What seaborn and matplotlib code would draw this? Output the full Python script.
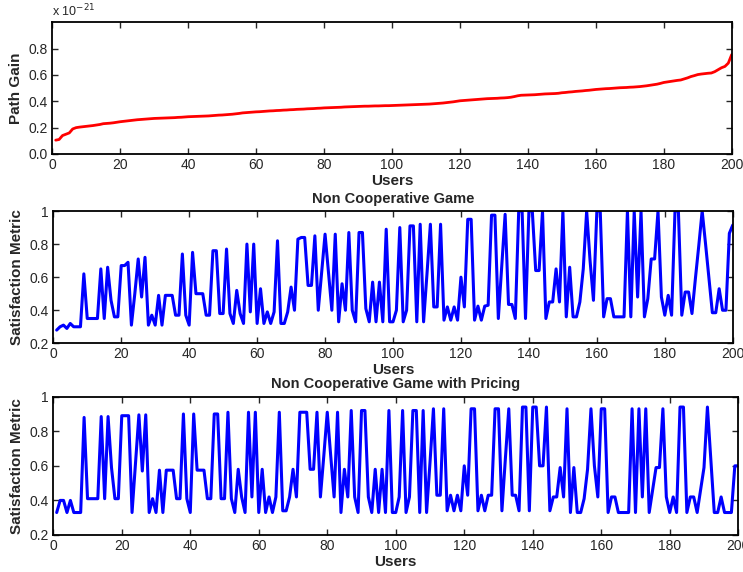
#!/usr/bin/env python
"""
Path gain and satisfaction metric per user (three stacked panels)
"""

import numpy as np
import matplotlib
matplotlib.use("Agg")
import matplotlib.pyplot as plt
from matplotlib.ticker import FuncFormatter
import seaborn as sns

# Data
users = np.arange(1, 201)

# path gain, in units of 1e-21
path_gain_e21 = [
    0.105, 0.110, 0.140, 0.150, 0.160, 0.190, 0.200, 0.204, 0.207, 0.210,
    0.213, 0.216, 0.220, 0.224, 0.230, 0.232, 0.234, 0.237, 0.241, 0.245,
    0.248, 0.251, 0.254, 0.257, 0.260, 0.262, 0.264, 0.266, 0.268, 0.270,
    0.271, 0.272, 0.273, 0.274, 0.275, 0.276, 0.278, 0.279, 0.281, 0.283,
    0.284, 0.285, 0.286, 0.287, 0.288, 0.289, 0.291, 0.293, 0.295, 0.296,
    0.298, 0.300, 0.302, 0.305, 0.308, 0.312, 0.314, 0.316, 0.318, 0.320,
    0.321, 0.323, 0.325, 0.327, 0.328, 0.330, 0.331, 0.333, 0.334, 0.336,
    0.337, 0.339, 0.340, 0.341, 0.343, 0.344, 0.345, 0.347, 0.348, 0.350,
    0.351, 0.352, 0.353, 0.354, 0.355, 0.357, 0.358, 0.359, 0.360, 0.361,
    0.362, 0.363, 0.363, 0.364, 0.365, 0.365, 0.366, 0.367, 0.367, 0.368,
    0.369, 0.370, 0.371, 0.372, 0.373, 0.374, 0.375, 0.376, 0.377, 0.378,
    0.379, 0.381, 0.383, 0.385, 0.387, 0.390, 0.393, 0.396, 0.400, 0.404,
    0.406, 0.408, 0.410, 0.412, 0.414, 0.416, 0.418, 0.420, 0.421, 0.422,
    0.423, 0.425, 0.426, 0.428, 0.431, 0.436, 0.442, 0.446, 0.447, 0.448,
    0.449, 0.450, 0.452, 0.454, 0.456, 0.457, 0.458, 0.459, 0.461, 0.465,
    0.467, 0.470, 0.472, 0.475, 0.477, 0.479, 0.482, 0.484, 0.487, 0.490,
    0.492, 0.494, 0.496, 0.497, 0.499, 0.501, 0.503, 0.504, 0.505, 0.507,
    0.508, 0.510, 0.512, 0.515, 0.518, 0.522, 0.526, 0.530, 0.536, 0.543,
    0.547, 0.551, 0.555, 0.559, 0.562, 0.570, 0.578, 0.588, 0.595, 0.603,
    0.607, 0.610, 0.613, 0.615, 0.625, 0.640, 0.655, 0.665, 0.690, 0.755,
]

# satisfaction, non cooperative game
sat_noncoop = [
    0.28, 0.30, 0.31, 0.29, 0.32, 0.30, 0.30, 0.30, 0.62, 0.35,
    0.35, 0.35, 0.35, 0.65, 0.35, 0.66, 0.46, 0.36, 0.36, 0.67,
    0.67, 0.69, 0.31, 0.50, 0.71, 0.48, 0.72, 0.31, 0.37, 0.31,
    0.49, 0.31, 0.49, 0.49, 0.49, 0.37, 0.37, 0.74, 0.37, 0.31,
    0.75, 0.50, 0.50, 0.50, 0.37, 0.37, 0.76, 0.76, 0.38, 0.38,
    0.77, 0.38, 0.32, 0.52, 0.38, 0.32, 0.80, 0.39, 0.80, 0.32,
    0.53, 0.32, 0.39, 0.32, 0.39, 0.82, 0.32, 0.32, 0.39, 0.54,
    0.40, 0.83, 0.84, 0.84, 0.55, 0.55, 0.85, 0.40, 0.63, 0.86,
    0.63, 0.40, 0.86, 0.33, 0.56, 0.40, 0.87, 0.40, 0.33, 0.87,
    0.87, 0.41, 0.33, 0.57, 0.33, 0.57, 0.33, 0.89, 0.33, 0.33,
    0.40, 0.90, 0.33, 0.40, 0.91, 0.91, 0.33, 0.92, 0.33, 0.62,
    0.92, 0.42, 0.42, 0.92, 0.34, 0.42, 0.34, 0.42, 0.34, 0.60,
    0.42, 0.95, 0.95, 0.34, 0.425, 0.34, 0.425, 0.43, 0.975, 0.975,
    0.35, 0.66, 0.98, 0.435, 0.435, 0.35, 1.0, 1.0, 0.35, 1.0,
    1.0, 0.64, 0.64, 1.0, 0.35, 0.45, 0.45, 0.65, 0.45, 1.0,
    0.36, 0.66, 0.36, 0.36, 0.45, 0.65, 1.0, 0.70, 0.46, 1.0,
    1.0, 0.36, 0.47, 0.47, 0.36, 0.36, 0.36, 0.36, 1.0, 0.36,
    1.0, 0.48, 1.0, 0.36, 0.47, 0.71, 0.71, 1.0, 0.48, 0.37,
    0.49, 0.37, 1.0, 1.0, 0.37, 0.51, 0.51, 0.38, 0.59, 0.79,
    1.0, 0.80, 0.59, 0.385, 0.385, 0.53, 0.40, 0.40, 0.865, 0.915,
]

# satisfaction, non cooperative game with pricing
sat_pricing = [
    0.33, 0.40, 0.40, 0.33, 0.40, 0.33, 0.33, 0.33, 0.88, 0.41,
    0.41, 0.41, 0.41, 0.885, 0.41, 0.885, 0.59, 0.41, 0.41, 0.89,
    0.89, 0.89, 0.33, 0.61, 0.895, 0.57, 0.895, 0.33, 0.41, 0.33,
    0.575, 0.33, 0.575, 0.575, 0.575, 0.41, 0.41, 0.90, 0.41, 0.33,
    0.90, 0.575, 0.575, 0.575, 0.41, 0.41, 0.90, 0.90, 0.41, 0.41,
    0.91, 0.41, 0.33, 0.58, 0.42, 0.33, 0.91, 0.42, 0.91, 0.33,
    0.58, 0.33, 0.42, 0.33, 0.42, 0.91, 0.34, 0.34, 0.42, 0.58,
    0.42, 0.91, 0.91, 0.91, 0.58, 0.58, 0.91, 0.42, 0.66, 0.91,
    0.66, 0.42, 0.91, 0.33, 0.58, 0.42, 0.92, 0.42, 0.33, 0.92,
    0.92, 0.42, 0.33, 0.58, 0.33, 0.58, 0.33, 0.92, 0.33, 0.33,
    0.42, 0.92, 0.33, 0.42, 0.92, 0.92, 0.33, 0.92, 0.33, 0.62,
    0.93, 0.43, 0.43, 0.93, 0.34, 0.43, 0.34, 0.43, 0.34, 0.60,
    0.43, 0.93, 0.93, 0.34, 0.43, 0.34, 0.43, 0.43, 0.93, 0.93,
    0.34, 0.64, 0.93, 0.43, 0.43, 0.34, 0.94, 0.94, 0.34, 0.94,
    0.94, 0.60, 0.60, 0.94, 0.34, 0.42, 0.42, 0.59, 0.42, 0.93,
    0.33, 0.59, 0.33, 0.33, 0.41, 0.58, 0.93, 0.60, 0.42, 0.93,
    0.93, 0.33, 0.42, 0.42, 0.33, 0.33, 0.33, 0.33, 0.93, 0.33,
    0.93, 0.42, 0.93, 0.33, 0.46, 0.59, 0.59, 0.93, 0.42, 0.33,
    0.42, 0.33, 0.94, 0.94, 0.33, 0.42, 0.42, 0.33, 0.46, 0.59,
    0.94, 0.63, 0.33, 0.33, 0.42, 0.33, 0.33, 0.33, 0.60, 0.60,
]

x_ticks = [0, 20, 40, 60, 80, 100, 120, 140, 160, 180, 200]
gain_ticks = [0, 0.2, 0.4, 0.6, 0.8]
sat_ticks = [0.2, 0.4, 0.6, 0.8, 1.0]

# Style (MATLAB-ish)
sns.set_style("ticks")
plt.rcParams['font.family'] = ['Liberation Sans', 'DejaVu Sans']
plt.rcParams['font.size'] = 10
plt.rcParams['axes.linewidth'] = 1.3
plt.rcParams['xtick.direction'] = 'in'
plt.rcParams['ytick.direction'] = 'in'
plt.rcParams['xtick.major.size'] = 4
plt.rcParams['ytick.major.size'] = 4
plt.rcParams['xtick.major.width'] = 1.0
plt.rcParams['ytick.major.width'] = 1.0
plt.rcParams['xtick.labelsize'] = 10
plt.rcParams['ytick.labelsize'] = 10

fig = plt.figure(figsize=(7.43, 5.72), dpi=100)
ax1 = fig.add_axes([0.0704, 0.7308, 0.9144, 0.2302])
ax2 = fig.add_axes([0.0717, 0.3998, 0.9145, 0.2313])
ax3 = fig.add_axes([0.0717, 0.0647, 0.9219, 0.2418])

fmt = FuncFormatter(lambda v, p: f'{v:g}')

# Panel 1: path gain
sns.lineplot(x=users, y=path_gain_e21, ax=ax1, color='red', linewidth=2)
ax1.set_ylim(0, 1)
ax1.set_yticks(gain_ticks)
ax1.set_ylabel('Path Gain', fontweight='bold', fontsize=11)
ax1.text(0.0, 1.02, r'x 10$^{-21}$', transform=ax1.transAxes,
         ha='left', va='bottom', fontsize=9)

# Panel 2: non cooperative game
sns.lineplot(x=users, y=sat_noncoop, ax=ax2, color='blue', linewidth=2.2)
ax2.set_title('Non Cooperative Game', fontweight='bold', fontsize=10.5, pad=6)

# Panel 3: with pricing
sns.lineplot(x=users, y=sat_pricing, ax=ax3, color='blue', linewidth=2.2)
ax3.set_title('Non Cooperative Game with Pricing', fontweight='bold',
              fontsize=10.5, pad=6)

for ax in (ax2, ax3):
    ax.set_ylim(0.2, 1)
    ax.set_yticks(sat_ticks)
    ax.yaxis.set_major_formatter(fmt)
    ax.set_ylabel('Satisfaction Metric', fontweight='bold', fontsize=11)

for ax in (ax1, ax2, ax3):
    ax.set_xlim(0, 200)
    ax.set_xticks(x_ticks)
    ax.xaxis.set_major_formatter(fmt)
    ax.set_xlabel('Users', fontweight='bold', fontsize=11, labelpad=1)
    ax.tick_params(top=True, right=True, pad=3)
    for s in ax.spines.values():
        s.set_visible(True)
        s.set_color('black')
    ax.grid(False)

fig.savefig('out.png', dpi=100)
print("Saved: out.png")
